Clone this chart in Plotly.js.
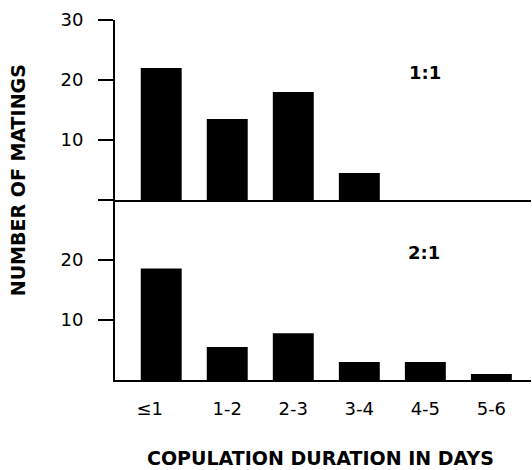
<!DOCTYPE html>
<html>
<head>
<meta charset="utf-8">
<script src="https://cdn.plot.ly/plotly-3.0.1.min.js"></script>
<style>html,body{margin:0;padding:0;background:#fff;}#chart{width:532px;height:470px;}</style>
</head>
<body>
<div id="chart"></div>
<script>
const categories = ["≤1", "1-2", "2-3", "3-4", "4-5", "5-6"];
const tickLabels = ["≤1\u2007\u2007", "1-2", "2-3", "3-4", "4-5", "5-6"];
const ratio11 = [22, 13.5, 18, 4.5, 0, 0];
const ratio21 = [18.6, 5.5, 7.8, 3, 3, 1];
const panelLabels = ["1:1", "2:1"];
const yTitle = "NUMBER OF MATINGS";
const xTitle = "COPULATION DURATION IN DAYS";

const tickFont = {family: "DejaVu Sans, sans-serif", size: 18, color: "#000"};
const boldFont = {family: "DejaVu Sans, sans-serif", size: 18, color: "#000", weight: "bold"};

const traces = [
  {type: "bar", x: categories, y: ratio11, xaxis: "x2", yaxis: "y", marker: {color: "#000", line: {width: 0}}, hoverinfo: "none"},
  {type: "bar", x: categories, y: ratio21, xaxis: "x", yaxis: "y2", marker: {color: "#000", line: {width: 0}}, hoverinfo: "none"}
];

const layout = {
  width: 532, height: 470,
  margin: {l: 115, r: 1, t: 20, b: 90},
  paper_bgcolor: "#fff", plot_bgcolor: "#fff",
  showlegend: false,
  bargap: 0.38,
  xaxis: {
    anchor: "y2", domain: [0, 1], type: "category",
    categoryorder: "array", categoryarray: categories,
    range: [-0.7, 5.6], showgrid: false, zeroline: false,
    showline: true, linecolor: "#000", linewidth: 2,
    ticks: "", tickvals: categories, ticktext: tickLabels,
    tickfont: tickFont, ticklabelstandoff: 11
  },
  xaxis2: {
    anchor: "y", domain: [0, 1], type: "category", matches: "x",
    categoryorder: "array", categoryarray: categories,
    range: [-0.7, 5.6], showgrid: false, zeroline: false,
    showline: true, linecolor: "#000", linewidth: 2,
    ticks: "", showticklabels: false
  },
  yaxis: {
    domain: [0.5, 1], range: [0, 30], anchor: "x2",
    showgrid: false, zeroline: false,
    showline: true, linecolor: "#000", linewidth: 2,
    ticks: "outside", ticklen: 15, tickwidth: 2, tickcolor: "#000",
    tickvals: [0, 10, 20, 30], ticktext: ["", "10", "20", "30"],
    tickfont: tickFont, ticklabelstandoff: 11
  },
  yaxis2: {
    domain: [0, 0.5], range: [0, 30], anchor: "x",
    showgrid: false, zeroline: false,
    showline: true, linecolor: "#000", linewidth: 2,
    ticks: "outside", ticklen: 15, tickwidth: 2, tickcolor: "#000",
    tickvals: [10, 20], ticktext: ["10", "20"],
    tickfont: tickFont, ticklabelstandoff: 11
  },
  annotations: [
    {text: panelLabels[0], xref: "x2", yref: "y", x: 4.0, y: 21.25, showarrow: false, font: boldFont, xanchor: "center", yanchor: "middle"},
    {text: panelLabels[1], xref: "x", yref: "y2", x: 3.98, y: 21.25, showarrow: false, font: boldFont, xanchor: "center", yanchor: "middle"},
    {text: yTitle, xref: "paper", yref: "paper", x: -0.234, y: 0.554, textangle: -90, showarrow: false, font: Object.assign({}, boldFont, {size: 19}), xanchor: "center", yanchor: "middle"},
    {text: xTitle, xref: "paper", yref: "paper", x: 0.495, y: -0.2167, showarrow: false, font: Object.assign({}, boldFont, {size: 19}), xanchor: "center", yanchor: "middle"}
  ]
};

Plotly.newPlot("chart", traces, layout, {staticPlot: true, displayModeBar: false});
</script>
</body>
</html>
